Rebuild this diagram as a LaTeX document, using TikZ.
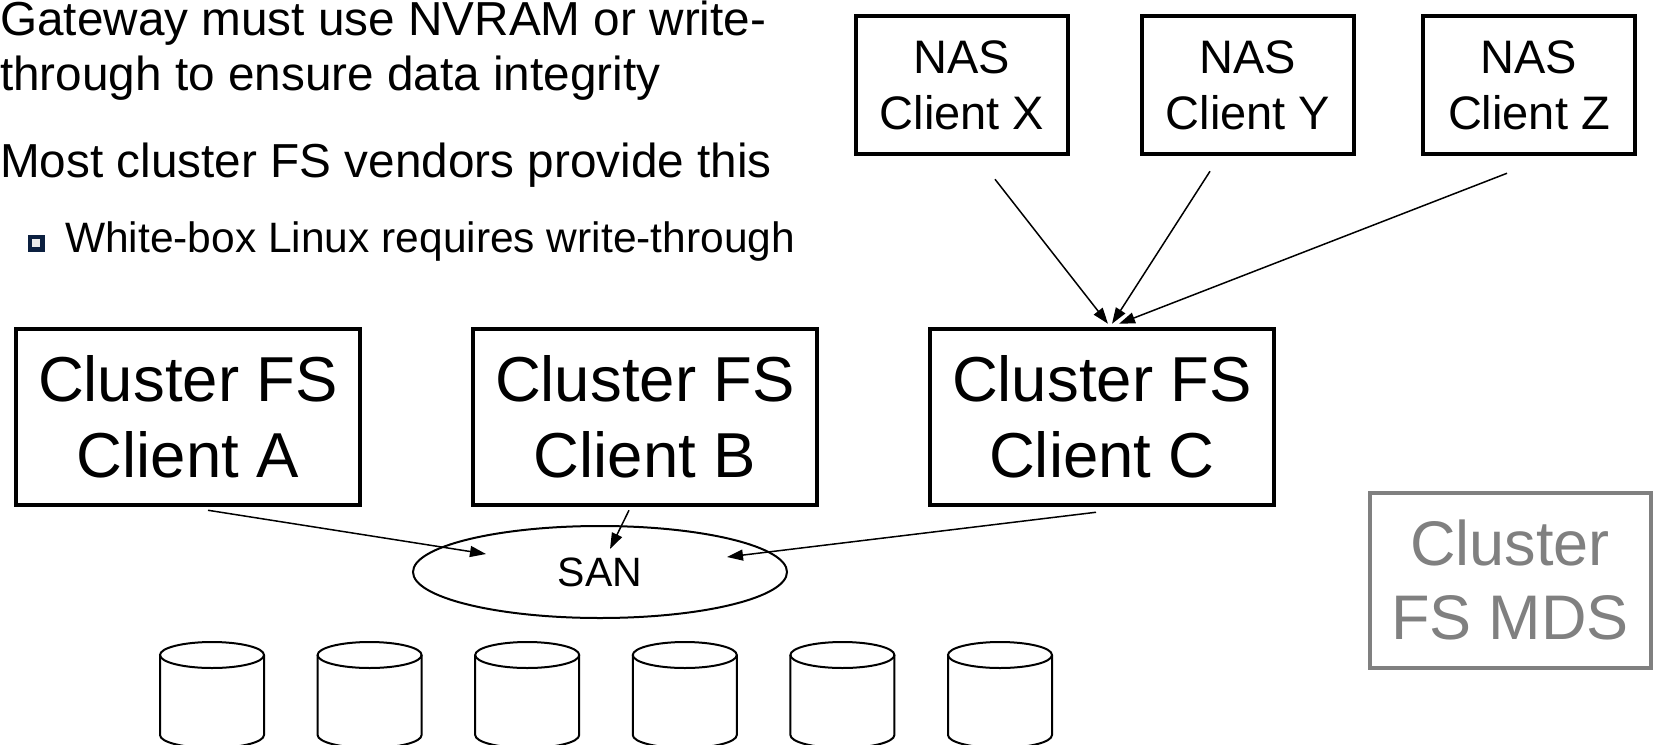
\documentclass[tikz,border=0pt]{standalone}
\usepackage{fontspec}
\setmainfont{Liberation Sans}
\usetikzlibrary{shapes.geometric,arrows.meta,calc}
\definecolor{bulletnavy}{RGB}{12,32,64}
\definecolor{mdsgray}{RGB}{128,128,128}
\begin{document}
\begin{tikzpicture}[x=1pt,y=-1pt,
  box/.style={draw, line width=4.5pt, align=center, inner sep=0pt},
  nasbox/.style={box, minimum width=212pt, minimum height=138pt,
    font=\fontsize{47}{56}\selectfont},
  cfsbox/.style={box, minimum width=344pt, minimum height=176pt,
    font=\fontsize{63.5}{76}\selectfont},
  mdsbox/.style={box, draw=mdsgray, text=mdsgray, line width=4pt,
    minimum width=281pt, minimum height=175pt,
    font=\fontsize{63}{74}\selectfont},
  bodytext/.style={anchor=base west, inner sep=0pt,
    font=\fontsize{47.7}{55}\selectfont},
  subtext/.style={anchor=base west, inner sep=0pt,
    font=\fontsize{42.5}{50}\selectfont},
  link/.style={line width=1.5pt, -{Triangle[length=16pt,width=11pt]}},
  disk/.style={line width=2pt},
]
\useasboundingbox (0,0) rectangle (1656,744);
\fill[white] (0,0) rectangle (1656,744);
\clip (0,0) rectangle (1656,744);

% bullet text
\node[bodytext] (l1) at (0,35) {Gateway must use NVRAM or write-};
\node[bodytext] (l2) at (0,90) {through to ensure data integrity};
\node[bodytext] (l3) at (0,177) {Most cluster FS vendors provide this};
\node[draw=bulletnavy, fill=black!8, line width=4.5pt, minimum size=12.5pt,
  inner sep=0pt] (bul) at (36,243) {};
\node[subtext] (l4) at (65,252) {White-box Linux requires write-through};

% NAS clients
\node[nasbox] (X) at (962,85) {NAS\\Client X};
\node[nasbox] (Y) at (1248,85) {NAS\\Client Y};
\node[nasbox] (Z) at (1529,85) {NAS\\Client Z};

% cluster FS clients
\node[cfsbox] (A) at (188,417) {Cluster FS\\Client A};
\node[cfsbox] (B) at (645,417) {Cluster FS\\Client B};
\node[cfsbox] (C) at (1102,417) {Cluster FS\\Client C};

% metadata server
\node[mdsbox] (M) at (1510,580) {Cluster\\FS MDS};

% storage network
\node[draw, ellipse, line width=2pt, minimum width=374pt, minimum height=92pt,
  inner sep=0pt, font=\fontsize{41}{48}\selectfont] (SAN) at (600,572) {SAN};

% NAS clients to gateway
\draw[link] ($(X.south)+(33,23)$) -- ($(C.north)+(6,-3)$);
\draw[link] ($(Y.south)+(-38,15)$) -- ($(C.north)+(10,-3)$);
\draw[link] ($(Z.south)+(-22,17)$) -- ($(C.north)+(17,-3)$);

% cluster clients to SAN
\draw[link] ($(A.south)+(20,3)$) -- ($(SAN.center)+(-114,-18)$);
\draw[link] ($(B.south)+(-16,3)$) -- ($(SAN.center)+(10,-23)$);
\draw[link] ($(C.south)+(-6,5)$) -- ($(SAN.center)+(127,-15)$);

% disks
\foreach \i in {0,...,5}{
  \pgfmathsetmacro{\cx}{212+157.6*\i}
  \draw[disk] (\cx,655) ellipse[x radius=52, y radius=13];
  \draw[disk] (\cx-52,655) -- (\cx-52,735)
    arc[start angle=180, end angle=0, x radius=52, y radius=13]
    -- (\cx+52,655);
}
\end{tikzpicture}
\end{document}
